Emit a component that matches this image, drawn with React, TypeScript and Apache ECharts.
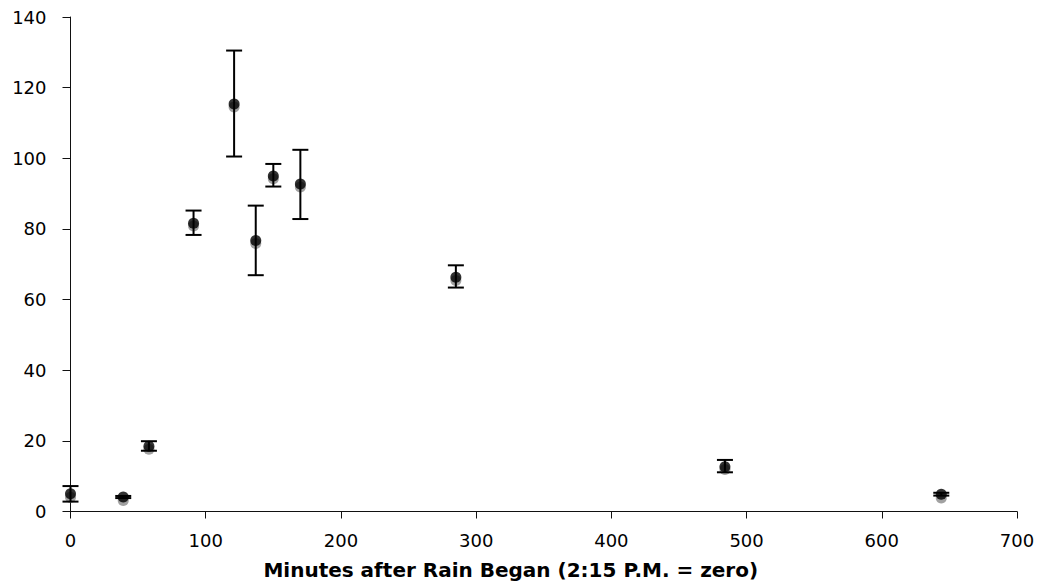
import React, { useEffect, useRef } from "react";
import * as echarts from "echarts";

const minutes = [0, 39, 58, 91, 121, 137, 150, 170, 285, 484, 644];
const blackValues = [5.0, 4.1, 18.5, 81.6, 115.4, 76.7, 95.0, 92.7, 66.3, 12.7, 4.9];
const greyValues = [4.0, 3.1, 17.6, 80.8, 114.5, 75.9, 94.2, 91.9, 65.4, 11.9, 3.8];
const errLow = [2.8, 3.8, 17.2, 78.3, 100.5, 66.9, 92.0, 82.8, 63.4, 11.1, 4.5];
const errHigh = [7.2, 4.4, 19.9, 85.2, 130.5, 86.6, 98.4, 102.4, 69.7, 14.6, 5.3];
const xTitle = "Minutes after Rain Began (2:15 P.M. = zero)";

export default function App() {
  const ref = useRef<HTMLDivElement>(null);
  useEffect(() => {
    document.body.style.margin = "0";
    if (!ref.current) return;
    const chart = echarts.init(ref.current, null, { renderer: "svg" });
    const font = "'DejaVu Sans', Verdana, sans-serif";
    chart.setOption({
      animation: false,
      backgroundColor: "#ffffff",
      grid: { left: 70.5, right: 22, top: 17, bottom: 76.5, containLabel: false },
      xAxis: {
        type: "value",
        min: 0,
        max: 700,
        interval: 100,
        name: xTitle,
        nameLocation: "middle",
        nameGap: 48,
        nameTextStyle: {
          fontFamily: font,
          fontSize: 20,
          fontWeight: "bold",
          color: "#000",
          padding: [0, 66, 0, 0],
        },
        axisLine: { onZero: false, lineStyle: { color: "#111", width: 1 } },
        axisTick: { show: true, inside: false, length: 7, lineStyle: { color: "#111" } },
        axisLabel: { fontFamily: font, fontSize: 18, color: "#000", margin: 20 },
        splitLine: { show: false },
      },
      yAxis: {
        type: "value",
        min: 0,
        max: 140,
        interval: 20,
        axisLine: { show: true, lineStyle: { color: "#111", width: 1 } },
        axisTick: { show: true, inside: false, length: 8, lineStyle: { color: "#111" } },
        axisLabel: { fontFamily: font, fontSize: 18, color: "#000", margin: 24 },
        splitLine: { show: false },
      },
      series: [
        {
          type: "scatter",
          name: "grey",
          symbol: "circle",
          symbolSize: 11,
          itemStyle: { color: "#8a8a8a" },
          data: minutes.map((m, i) => [m, greyValues[i]]),
          z: 2,
        },
        {
          type: "custom",
          name: "errors",
          data: minutes.map((m, i) => [m, errLow[i], errHigh[i]]),
          renderItem: (params: any, api: any) => {
            const x = api.value(0);
            const lo = api.coord([x, api.value(1)]);
            const hi = api.coord([x, api.value(2)]);
            const hw = 8;
            const style = { stroke: "#000", lineWidth: 2 };
            return {
              type: "group",
              children: [
                { type: "line", shape: { x1: lo[0], y1: lo[1], x2: hi[0], y2: hi[1] }, style },
                { type: "line", shape: { x1: lo[0] - hw, y1: lo[1], x2: lo[0] + hw, y2: lo[1] }, style },
                { type: "line", shape: { x1: hi[0] - hw, y1: hi[1], x2: hi[0] + hw, y2: hi[1] }, style },
              ],
            };
          },
          z: 3,
        },
        {
          type: "scatter",
          name: "black",
          symbol: "circle",
          symbolSize: 11,
          itemStyle: { color: "#000" },
          data: minutes.map((m, i) => [m, blackValues[i]]),
          z: 4,
        },
      ],
    });
    return () => chart.dispose();
  }, []);
  return <div ref={ref} style={{ width: 1039, height: 588 }} />;
}
